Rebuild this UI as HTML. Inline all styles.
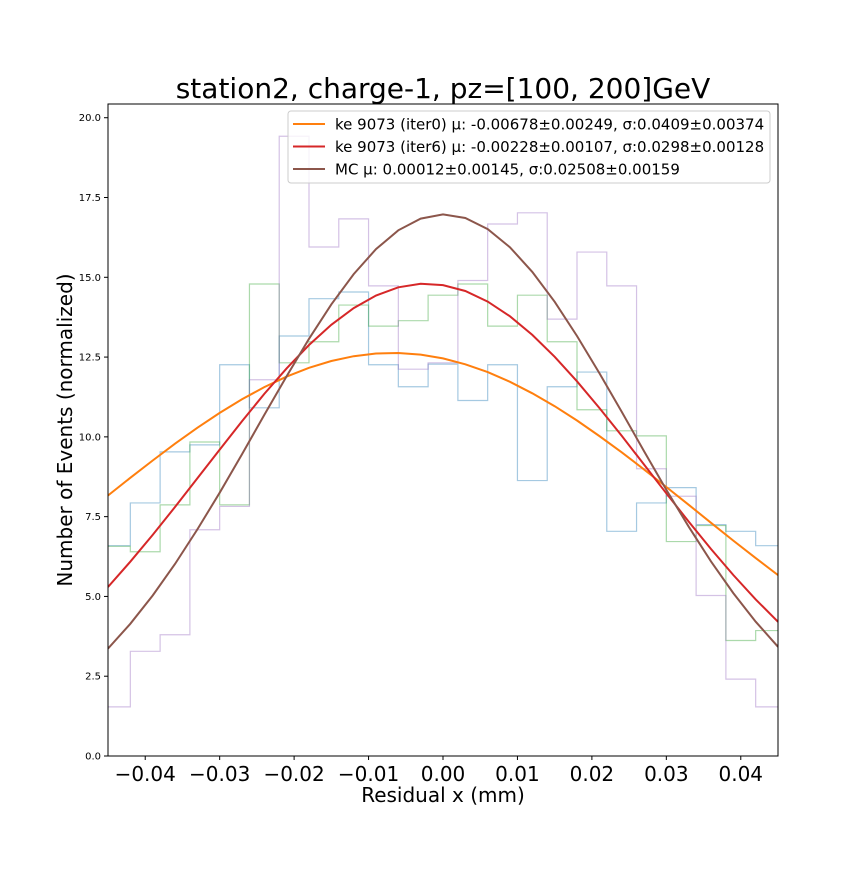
<!DOCTYPE html>
<html><head><meta charset="utf-8"><style>
body{margin:0;background:#fff;font-family:"Liberation Sans","DejaVu Sans",sans-serif}
</style></head><body>
<svg id="chart" width="864" height="864" xmlns="http://www.w3.org/2000/svg">
<text x="443" y="98" text-anchor="middle" font-size="28" font-family="DejaVu Sans, sans-serif">station2, charge-1, pz=[100, 200]GeV</text>
<g id="plot"></g>
</svg>
<script>
const binCenters=[-0.044,-0.040,-0.036,-0.032,-0.028,-0.024,-0.020,-0.016,-0.012,-0.008,-0.004,0.000,0.004,0.008,0.012,0.016,0.020,0.024,0.028,0.032,0.036,0.040,0.044];
const blueVals=[6.59,7.93,9.53,9.75,12.26,10.91,13.16,14.33,14.54,12.26,11.57,12.28,11.14,12.26,8.63,11.57,12.03,7.04,7.93,8.41,7.25,7.04,6.59];
const greenVals=[6.57,6.40,7.87,9.84,7.87,14.79,12.32,12.98,14.13,13.47,13.64,14.44,14.79,13.47,14.44,12.98,10.85,10.19,10.03,6.72,7.22,3.62,3.93];
const purpleVals=[1.54,3.28,3.80,7.09,7.82,11.79,19.42,15.95,16.83,14.73,12.12,12.32,14.90,16.67,17.02,13.69,15.79,14.73,9.00,8.14,5.03,2.41,1.54];
const fitNames=["ke 9073 (iter0) μ: -0.00678±0.00249, σ:0.0409±0.00374","ke 9073 (iter6) μ: -0.00228±0.00107, σ:0.0298±0.00128","MC μ: 0.00012±0.00145, σ:0.02508±0.00159"];
const fitAmp=[12.63,14.80,16.97];
const fitMu=[-0.00678,-0.00228,0.00012];
const fitSigma=[0.0409,0.0298,0.02508];
const fitColors=["#ff7f0e","#d62728","#8c564b"];
const yTicks=[0,2.5,5,7.5,10,12.5,15,17.5,20];
const xTicks=[-0.04,-0.03,-0.02,-0.01,0,0.01,0.02,0.03,0.04];
const binW=0.004;

const L=108,R=778,T=104,B=756,xmin=-0.045,xmax=0.045,ymax=20.43;
const X=v=>L+(v-xmin)/(xmax-xmin)*(R-L);
const Y=v=>B-v/ymax*(B-T);
const NS="http://www.w3.org/2000/svg";
const g=document.getElementById('plot');
function mk(t,a){const e=document.createElementNS(NS,t);for(const k in a)e.setAttribute(k,a[k]);g.appendChild(e);return e;}
const clip=mk('clipPath',{id:'pc'});
const cr=document.createElementNS(NS,'rect');cr.setAttribute('x',L);cr.setAttribute('y',T);cr.setAttribute('width',R-L);cr.setAttribute('height',B-T);clip.appendChild(cr);

function hist(vals,color,name){
  let d='';
  vals.forEach((v,i)=>{const x0=X(binCenters[i]-binW/2),x1=X(binCenters[i]+binW/2),y=Y(v);
    d+=(i===0?'M'+x0+','+y:'L'+x0+','+y)+'L'+x1+','+y;});
  const p=mk('path',{d:d,fill:'none',stroke:color,'stroke-width':1.2,'stroke-opacity':0.4,'clip-path':'url(#pc)'});
  
  
}
hist(blueVals,'#1f77b4','hist-blue');
hist(greenVals,'#2ca02c','hist-green');
hist(purpleVals,'#9467bd','hist-purple');

fitNames.forEach((n,k)=>{
  const pts=[];
  for(let i=0;i<=30;i++){const x=xmin+i*(xmax-xmin)/30;
    const y=fitAmp[k]*Math.exp(-Math.pow(x-fitMu[k],2)/(2*fitSigma[k]*fitSigma[k]));
    pts.push(X(x).toFixed(1)+','+Y(y).toFixed(1));}
  const p=mk('polyline',{points:pts.join(' '),fill:'none',stroke:fitColors[k],'stroke-width':2,'clip-path':'url(#pc)'});
  
  
});

const frame=mk('rect',{x:L,y:T,width:R-L,height:B-T,fill:'none',stroke:'#000','stroke-width':1});



yTicks.forEach(v=>{
  mk('line',{x1:L-4,x2:L,y1:Y(v),y2:Y(v),stroke:'#000'});
  const t=mk('text',{x:L-7,y:Y(v)+3.5,'text-anchor':'end','font-size':10,'font-family':'DejaVu Sans, sans-serif'});
  t.textContent=v.toFixed(1);
  
  
});
xTicks.forEach(v=>{
  mk('line',{x1:X(v),x2:X(v),y1:B,y2:B+4,stroke:'#000'});
  const t=mk('text',{x:X(v),y:B+25,'text-anchor':'middle','font-size':20,'font-family':'DejaVu Sans, sans-serif'});
  t.textContent=(v<0?'\u2212':'')+Math.abs(v).toFixed(2);
  
  
});
const xl=mk('text',{x:443,y:802,'text-anchor':'middle','font-size':20,'font-family':'DejaVu Sans, sans-serif'});
xl.textContent='Residual x (mm)';


const yl=mk('text',{x:72,y:430,'text-anchor':'middle','font-size':20,'font-family':'DejaVu Sans, sans-serif',transform:'rotate(-90 72 430)'});
yl.textContent='Number of Events (normalized)';



const lg=mk('rect',{x:288,y:111,width:482,height:72,rx:3,fill:'#fff','fill-opacity':0.8,stroke:'#ccc'});


fitNames.forEach((n,k)=>{
  const y=124+k*22.5;
  mk('line',{x1:293,x2:325,y1:y,y2:y,stroke:fitColors[k],'stroke-width':2});
  const t=mk('text',{x:335,y:y+5.5,'font-size':15,'font-family':'DejaVu Sans, sans-serif'});
  t.textContent=n;
  
  
});
</script>
</body></html>
